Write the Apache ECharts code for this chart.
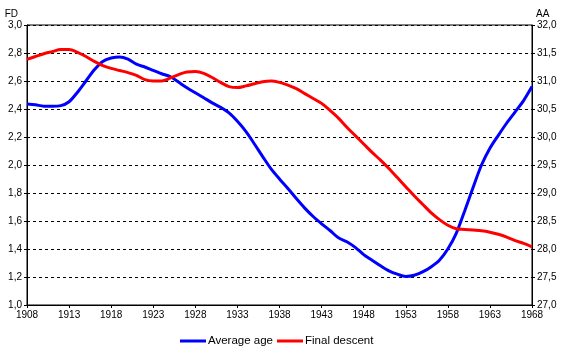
<!DOCTYPE html>
<html>
<head>
<meta charset="utf-8">
<script src="https://cdn.jsdelivr.net/npm/echarts@6/dist/echarts.min.js"></script>
<style>html,body{margin:0;padding:0;background:#fff}#c{width:567px;height:358px}</style>
</head>
<body>
<div id="c"></div>
<script>
const years = [];
for (let y = 1908; y <= 1968; y++) years.push(String(y));

// Average age (right axis, AA)
const averageAge = [30.59,30.575,30.55,30.55,30.56,30.63,30.80,31.00,31.20,31.35,
  31.41,31.43,31.39,31.30,31.25,31.19,31.13,31.08,30.98,30.88,
  30.79,30.70,30.61,30.53,30.43,30.28,30.10,29.88,29.65,29.43,
  29.25,29.08,28.90,28.73,28.58,28.45,28.33,28.20,28.13,28.03,
  27.90,27.80,27.70,27.61,27.55,27.51,27.53,27.59,27.68,27.80,
  28.00,28.28,28.68,29.10,29.50,29.80,30.03,30.25,30.45,30.65,30.90];

// Final descent (left axis, FD)
const finalDescent = [2.755,2.775,2.795,2.81,2.825,2.825,2.805,2.775,2.74,2.71,
  2.69,2.675,2.66,2.64,2.61,2.60,2.60,2.62,2.645,2.665,
  2.667,2.655,2.625,2.59,2.56,2.553,2.565,2.58,2.595,2.60,
  2.59,2.57,2.545,2.51,2.475,2.44,2.39,2.335,2.27,2.21,
  2.15,2.09,2.035,1.975,1.91,1.845,1.78,1.72,1.66,1.61,
  1.57,1.545,1.54,1.535,1.53,1.52,1.505,1.485,1.46,1.44,1.415];

const font = 'Arial, "Liberation Sans", sans-serif';
const chart = echarts.init(document.getElementById('c'), null, {renderer: 'canvas'});
chart.setOption({
  animation: false,
  textStyle: {fontFamily: font},
  grid: {left: 27, right: 35, top: 25, bottom: 53, show: true, borderColor: '#000', borderWidth: 1},
  legend: {
    bottom: 6, left: 175, itemWidth: 26, itemHeight: 3, itemGap: 4,
    icon: 'rect',
    textStyle: {fontFamily: font, fontSize: 11.5, color: '#000', padding: [0,0,0,-3]},
    data: ['Average age', 'Final descent']
  },
  xAxis: {
    type: 'category', data: years, boundaryGap: false,
    axisLine: {lineStyle: {color: '#000'}},
    axisTick: {interval: 4, length: 3, lineStyle: {color: '#000'}},
    axisLabel: {interval: 4, color: '#000', fontSize: 10, fontFamily: font, margin: 5},
    splitLine: {show: false}
  },
  yAxis: [{
    type: 'value', min: 1.0, max: 3.0, interval: 0.2, position: 'left',
    name: 'FD', nameGap: 6, nameTextStyle: {color: '#000', fontSize: 10, fontFamily: font, align: 'right', padding: [0, 9, 0, 0]},
    axisLine: {show: true, lineStyle: {color: '#000'}},
    axisTick: {show: true, length: 3, lineStyle: {color: '#000'}},
    axisLabel: {color: '#000', fontSize: 10, fontFamily: font, margin: 5,
      formatter: v => v.toFixed(1).replace('.', ',')},
    splitLine: {show: true, lineStyle: {color: '#000', type: [3, 3], width: 1}}
  }, {
    type: 'value', min: 27.0, max: 32.0, interval: 0.5, position: 'right',
    name: 'AA', nameGap: 6, nameTextStyle: {color: '#000', fontSize: 10, fontFamily: font, align: 'left', padding: [0, 0, 0, 4]},
    axisLine: {show: true, lineStyle: {color: '#000'}},
    axisTick: {show: true, length: 3, lineStyle: {color: '#000'}},
    axisLabel: {color: '#000', fontSize: 10, fontFamily: font, margin: 5,
      formatter: v => v.toFixed(1).replace('.', ',')},
    splitLine: {show: false}
  }],
  series: [{
    name: 'Average age', type: 'line', yAxisIndex: 1, data: averageAge,
    smooth: 0.3, symbol: 'none', color: '#0000ff',
    lineStyle: {color: '#0000ff', width: 3}
  }, {
    name: 'Final descent', type: 'line', yAxisIndex: 0, data: finalDescent,
    smooth: 0.3, symbol: 'none', color: '#ff0000',
    lineStyle: {color: '#ff0000', width: 3}
  }]
});
</script>
</body>
</html>
